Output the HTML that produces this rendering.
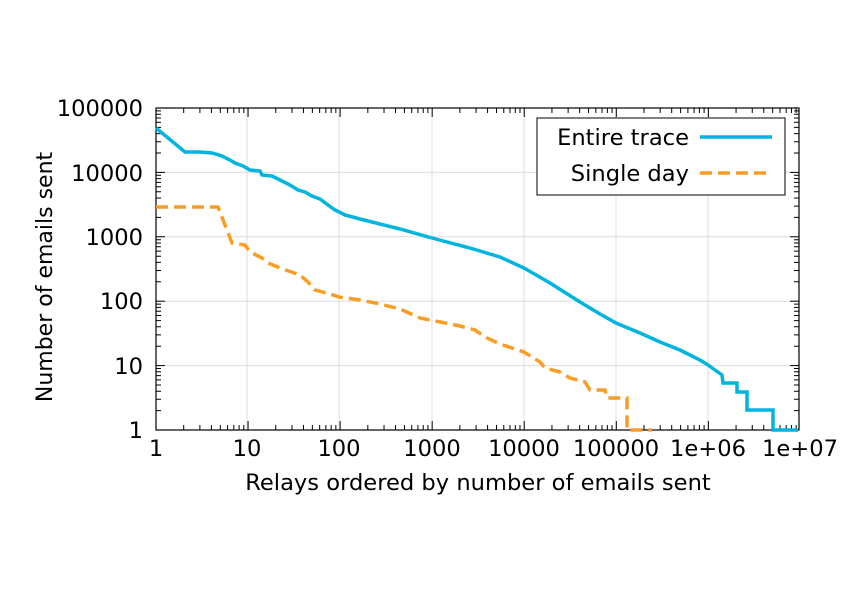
<!DOCTYPE html>
<html><head><style>body{margin:0;background:#fff}</style></head><body>
<svg width="846" height="594" xmlns="http://www.w3.org/2000/svg" font-family="DejaVu Sans, Liberation Sans, sans-serif" font-size="22.6">
<defs>
<g id="xd" stroke="#000" stroke-width="1">
<line x1="0" y1="430" x2="0" y2="421"/><line x1="0" y1="108" x2="0" y2="117"/>
<path d="M27.7 430v-5M43.9 430v-5M55.4 430v-5M64.3 430v-5M71.6 430v-5M77.8 430v-5M83.1 430v-5M87.8 430v-5M27.7 108v5M43.9 108v5M55.4 108v5M64.3 108v5M71.6 108v5M77.8 108v5M83.1 108v5M87.8 108v5"/>
</g>
<g id="yd" stroke="#000" stroke-width="1">
<line x1="156" y1="0" x2="165" y2="0"/><line x1="799" y1="0" x2="790" y2="0"/>
<path d="M156 -19.4h5M156 -30.7h5M156 -38.8h5M156 -45h5M156 -50.1h5M156 -54.4h5M156 -58.2h5M156 -61.5h5M799 -19.4h-5M799 -30.7h-5M799 -38.8h-5M799 -45h-5M799 -50.1h-5M799 -54.4h-5M799 -58.2h-5M799 -61.5h-5"/>
</g>
</defs>
<rect width="846" height="594" fill="#fff"/>
<g stroke="#dcdcdc" stroke-width="1">
<line x1="247" y1="108" x2="247" y2="430"/><line x1="339" y1="108" x2="339" y2="430"/><line x1="432" y1="108" x2="432" y2="430"/><line x1="524" y1="108" x2="524" y2="430"/><line x1="616" y1="108" x2="616" y2="430"/><line x1="708" y1="108" x2="708" y2="430"/>
<line x1="156" y1="172.4" x2="799" y2="172.4"/><line x1="156" y1="236.8" x2="799" y2="236.8"/><line x1="156" y1="301.2" x2="799" y2="301.2"/><line x1="156" y1="365.6" x2="799" y2="365.6"/>
</g>
<use href="#xd" x="156"/><use href="#xd" x="248.06"/><use href="#xd" x="340.12"/><use href="#xd" x="432.18"/><use href="#xd" x="524.24"/><use href="#xd" x="616.3"/><use href="#xd" x="708.36"/>
<use href="#yd" y="430"/><use href="#yd" y="365.6"/><use href="#yd" y="301.2"/><use href="#yd" y="236.8"/><use href="#yd" y="172.4"/>
<rect x="156" y="108" width="643" height="322" fill="none" stroke="#000" stroke-width="1.2"/>
<g text-anchor="end">
<text x="143" y="116">100000</text><text x="143" y="181">10000</text><text x="143" y="245">1000</text><text x="143" y="309">100</text><text x="143" y="374">10</text><text x="143" y="438">1</text>
</g>
<g text-anchor="middle">
<text x="156" y="456">1</text><text x="247" y="456">10</text><text x="339" y="456">100</text><text x="432" y="456">1000</text><text x="524" y="456">10000</text><text x="616" y="456">100000</text><text x="708" y="456">1e+06</text><text x="800" y="456">1e+07</text>
<text x="478" y="490">Relays ordered by number of emails sent</text>
<text transform="translate(52,277) rotate(-90)" font-size="22">Number of emails sent</text>
</g>
<rect x="537" y="118" width="248" height="77" fill="#fff" stroke="#000" stroke-width="1"/>
<text x="689" y="145" text-anchor="end">Entire trace</text>
<text x="689" y="181" text-anchor="end">Single day</text>
<line x1="700" y1="137" x2="772" y2="137" stroke="#00b4e0" stroke-width="3.5"/>
<line x1="700" y1="173" x2="772" y2="173" stroke="#f99d24" stroke-width="3.5" stroke-dasharray="12,6"/>
<polyline fill="none" stroke="#00b4e0" stroke-width="3.5" points="156,128 185,152 200,152 212,153 222,156 230,160 235,163 243,166 250,170 260,171 262,175 272,176 280,180 290,185 298,190 305,192 312,196 320,199 328,205 335,210 345,215 360,219 380,224 400,229 432,238 470,248 500,257 524,268 550,283 580,302 600,314 616,323 640,333 660,342 680,350 700,360 708,365 715,370 722,375 723,383 737,383 737,392 747,392 747,410 760,410 773,410 773,430 798,430"/>
<polyline fill="none" stroke="#f99d24" stroke-width="3.5" stroke-dasharray="12,6" points="156,207 218,207 225,225 232,243 245,245 250,252 262,258 268,263 280,268 300,275 308,282 315,290 330,294 339,297 360,300 380,304 400,309 420,318 440,322 460,326 475,330 485,337 500,344 524,352 540,362 545,368 560,372 570,378 585,382 590,390 605,390 607,398 627,398 627,410 627,430 652,430"/>
</svg>
</body></html>
